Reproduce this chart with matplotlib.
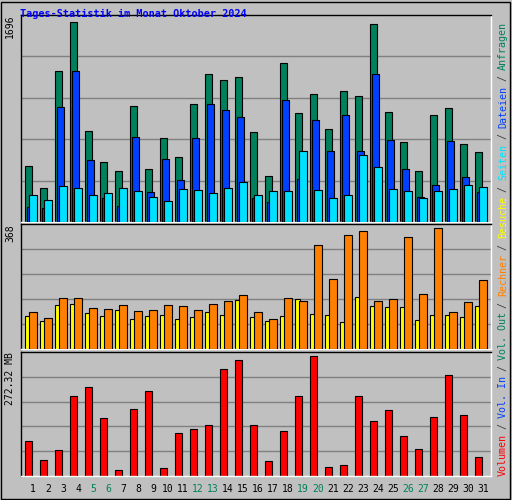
import matplotlib
matplotlib.use("Agg")
import matplotlib.pyplot as plt
from matplotlib.patches import Rectangle

days = list(range(1, 32))
hits = [473,287,1279,1696,774,508,437,987,446,712,553,1005,1253,1208,1235,765,393,1350,925,1084,792,1111,1067,1678,934,677,437,907,969,659,597]
files = [127,118,978,1279,526,207,136,721,251,535,358,712,1005,951,889,207,171,1040,366,863,606,907,606,1253,694,446,216,313,685,384,251]
pages = [225,189,304,287,225,242,287,260,216,180,278,269,242,287,340,225,260,260,606,269,207,233,570,464,278,260,207,260,278,313,295]
visits = [101,86,135,138,110,101,119,92,101,104,92,98,113,104,150,98,86,101,153,107,104,83,159,132,128,128,89,104,104,98,132]
sites = [113,95,156,156,125,122,135,116,119,135,132,119,138,147,165,113,92,156,147,315,211,346,358,147,153,339,168,367,113,144,208]
volume = [79,37,58,181,202,131,14,151,192,17,97,106,115,243,263,115,35,101,181,272.32,21,26,181,124,149,90,62,133,229,138,44]
weekend = [5,6,12,13,19,20,26,27]

W, H = 512, 500
fig = plt.figure(figsize=(W/100, H/100), dpi=100)
fig.patch.set_facecolor("#c0c0c0")
mono = "DejaVu Sans Mono"
fig.add_artist(Rectangle((1/W, 1/H), (W-3)/W, (H-3)/H, transform=fig.transFigure, fill=False, ec="#000000", lw=1))

def ax_px(x0, y0, x1, y1):
    return fig.add_axes([x0/W, 1-y1/H, (x1-x0)/W, (y1-y0)/H])

XL = (0.18, 31.52)
EC = "#000000"

def style(ax, top):
    ax.set_facecolor("#c0c0c0")
    ax.set_xlim(*XL)
    ax.set_ylim(0, top)
    for i in range(1, 5):
        ax.axhline(top*i/5, color="#808080", lw=1, zorder=0)
    ax.set_xticks([]); ax.set_yticks([])
    for s in ax.spines.values():
        s.set_color("#ffffff"); s.set_linewidth(1)
    ax.spines["top"].set_color("#000000"); ax.spines["left"].set_color("#000000")

# top panel
a1 = ax_px(20.7, 15, 490.7, 222)
top1 = 1696/0.965
style(a1, top1)
a1.bar([d-0.53 for d in days], hits, width=0.49, align="edge", color="#00805c", ec=EC, lw=0.8, zorder=2)
a1.bar([d-0.40 for d in days], files, width=0.49, align="edge", color="#0040ff", ec=EC, lw=0.8, zorder=3)
a1.bar([d-0.24 for d in days], pages, width=0.49, align="edge", color="#00e0ff", ec=EC, lw=0.8, zorder=4)

a2 = ax_px(20.7, 224, 490.7, 349)
top2 = 368/0.97
style(a2, top2)
a2.bar([d-0.53 for d in days], visits, width=0.31, align="edge", color="#ffff00", ec=EC, lw=0.8, zorder=2)
a2.bar([d-0.24 for d in days], sites, width=0.49, align="edge", color="#ff8000", ec=EC, lw=0.8, zorder=3)

a3 = ax_px(20.7, 352, 490.7, 476)
top3 = 272.32/0.97
style(a3, top3)
a3.bar([d-0.53 for d in days], volume, width=0.49, align="edge", color="#ff0000", ec=EC, lw=0.8, zorder=2)

for d in days:
    x = (20.7 + (d - XL[0]) / (XL[1]-XL[0]) * 470)
    fig.text(x/W, 1-489/H, str(d), ha="center", va="center", family=mono, fontsize=7,
             color="#00805c" if d in weekend else "#000000")

fig.text(20/W, 1-14/H, "Tages-Statistik im Monat Oktober 2024", family=mono, fontsize=7.3,
         weight="bold", color="#0000ff", va="center", ha="left")
fig.text(10/W, 1-15/H, "1696", rotation=90, family=mono, fontsize=7, va="top", ha="center")
fig.text(10/W, 1-224/H, "368", rotation=90, family=mono, fontsize=7, va="top", ha="center")
fig.text(10/W, 1-352/H, "272.32 MB", rotation=90, family=mono, fontsize=7, va="top", ha="center")

segs = [("Volumen", "#ff0000"), (" / ", "#404040"), ("Vol. In", "#0040ff"), (" / ", "#404040"),
        ("Vol. Out", "#00805c"), (" / ", "#404040"), ("Rechner", "#ff8000"), (" / ", "#404040"),
        ("Besuche", "#ffff00"), (" / ", "#404040"), ("Seiten", "#00e0ff"), (" / ", "#404040"),
        ("Dateien", "#0040ff"), (" / ", "#404040"), ("Anfragen", "#00805c")]
pitch = 5.8
y = 476
for t, c in segs:
    fig.text(503/W, 1-y/H, t, rotation=90, family=mono, fontsize=7.2, color=c,
             ha="center", va="bottom", rotation_mode="anchor" if False else "default")
    y -= len(t)*pitch

fig.savefig("out.png", dpi=100, facecolor=fig.get_facecolor())
